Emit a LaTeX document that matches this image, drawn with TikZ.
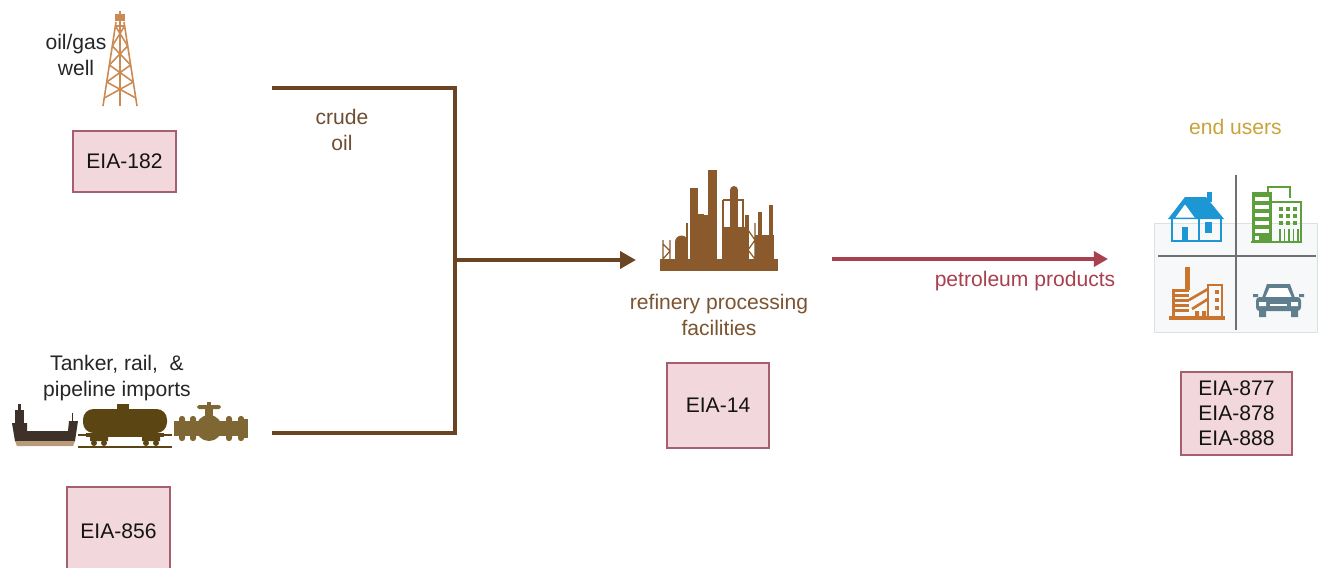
\documentclass[tikz,border=0pt]{standalone}
\usepackage{fontspec}
\setmainfont{Liberation Sans}
\usetikzlibrary{arrows.meta}

\definecolor{crudebrown}{HTML}{6B4423}
\definecolor{refbrown}{HTML}{8A5A2C}
\definecolor{crudetext}{HTML}{6E4E33}
\definecolor{reftext}{HTML}{7B5431}
\definecolor{prodred}{HTML}{A8404F}
\definecolor{boxfill}{HTML}{F2D7DC}
\definecolor{boxline}{HTML}{A65F6E}
\definecolor{derrick}{HTML}{C98A53}
\definecolor{usersgold}{HTML}{C9A33A}
\definecolor{houseblue}{HTML}{1C97D4}
\definecolor{officegreen}{HTML}{5E9F3D}
\definecolor{factoryorange}{HTML}{C9752F}
\definecolor{carslate}{HTML}{5F7F8F}
\definecolor{shipdark}{HTML}{3D3129}
\definecolor{shipstripe}{HTML}{B89B78}
\definecolor{railcar}{HTML}{5B4513}
\definecolor{valvebrown}{HTML}{7E6733}
\definecolor{panelbg}{HTML}{F6F8F9}
\definecolor{panelline}{HTML}{DCE1E4}
\definecolor{crossgray}{HTML}{707070}

\tikzset{
  eiabox/.style={draw=boxline, fill=boxfill, line width=0.85pt, inner sep=0pt,
    align=center, font=\fontsize{12}{14.2}\selectfont, text=black!92},
  flowtext/.style={align=center, font=\fontsize{12}{14.5}\selectfont},
  crudeline/.style={draw=crudebrown, line width=2.6pt},
  productline/.style={draw=prodred, line width=2.2pt},
}

\begin{document}
\begin{tikzpicture}[x=0.02cm, y=-0.02cm, >={Triangle[length=9pt,width=9.5pt]}]
  \useasboundingbox (0,0) rectangle (1319,568);
  \fill[white] (0,0) rectangle (1319,568);

  \begin{scope}[draw=derrick, line width=0.9pt]
    \draw (116,22) -- (103,106);
    \draw (124,22) -- (137,106);
    \draw (120,18) -- (120,106);
    \draw (115.6,26) -- (124.4,26);
    \foreach \a/\b in {26/46,46/65,65/82,82/98}
      \draw ({116-13*(\a-22)/84},\a) -- ({124+13*(\b-22)/84},\b)
            ({124+13*(\a-22)/84},\a) -- ({116-13*(\b-22)/84},\b);
    \fill[derrick] (115,14) rectangle (125,21);
    \fill[derrick] (119,11) rectangle (121,14);
  \end{scope}
  \node[flowtext, text=black!85] (wellLabel) at (76,55) {oil/gas\\well};
  \node[eiabox, minimum width=2.06cm, minimum height=1.22cm] (eia182) at (124.5,161.5) {EIA-182};

  \fill[shipdark] (12,423) -- (27,423) -- (27,431) -- (68,431) -- (69,421) -- (78,421)
    -- (75,441) -- (15,441) -- cycle;
  \fill[shipstripe] (15,441) -- (75,441) -- (73,446) -- (17,446) -- cycle;
  \fill[shipdark] (15,410) rectangle (24,423);
  \fill[shipdark] (18,404) rectangle (21,410);
  \draw[shipdark, line width=0.5pt] (72,421) -- (72,413);

  \fill[railcar, rounded corners=6pt] (83,409) rectangle (167,433);
  \fill[railcar] (117,404) rectangle (129,410);
  \fill[railcar] (86,433) rectangle (164,437);
  \fill[railcar] (90,437) rectangle (108,441) (142,437) rectangle (160,441);
  \foreach \w in {94,104,146,156}
    \fill[railcar] (\w,443) circle (3);
  \draw[railcar, line width=0.6pt] (78,447) -- (172,447);
  \draw[railcar, line width=1pt] (78,435) -- (86,435) (164,435) -- (172,435);

  \fill[valvebrown] (174,421) rectangle (247,436);
  \foreach \f in {179,190,226,238}
    \fill[valvebrown, rounded corners=1.5pt] (\f,416) rectangle (\f+6,441);
  \fill[valvebrown] (209,428) circle (13);
  \fill[valvebrown] (205,409) rectangle (213,418);
  \fill[valvebrown] (207,402) rectangle (211,409);
  \fill[valvebrown, rounded corners=1pt] (197,405) rectangle (221,409);
  \fill[valvebrown] (244,419) rectangle (248,438);
  \node[flowtext, text=black!85] (importsLabel) at (117,378) {Tanker, rail,\ \ \&\\pipeline imports};
  \node[eiabox, minimum width=2.06cm, minimum height=1.76cm] (eia856) at (118.5,531) {EIA-856};

  \coordinate (wellOut) at (272,88);
  \coordinate (importsOut) at (272,433);
  \coordinate (joinTop) at (455,88);
  \coordinate (joinBot) at (455,433);
  \coordinate (join) at (455,260);
  \coordinate (refIn) at (636,260);
  \draw[crudeline] (wellOut) -- (joinTop) -- (joinBot) -- (importsOut);
  \draw[crudeline, ->] (join) -- (refIn);
  \node[flowtext, text=crudetext] (crudeLabel) at (342,130) {crude\\oil};

  \begin{scope}[refbrown]
    \fill (660,259) rectangle (778,271);
    \fill (708,170) rectangle (717,259);
    \fill (690,188) rectangle (698,259);
    \fill (698,215) rectangle (708,259);
    \fill (730,190) rectangle (738,259);
    \fill (734,190) circle (4);
    \draw[line width=0.8pt] (723,200) -- (723,227) (723,200) -- (743,200) -- (743,227);
    \draw[line width=0.8pt] (687,223) -- (687,259) (694,215) -- (704,215);
    \fill (722,227) rectangle (745,259);
    \fill (745,215) rectangle (749,259);
    \fill (758,212) rectangle (762,259);
    \fill (769,205) rectangle (773,259);
    \fill (755,235) rectangle (774,259);
    \fill (675,242) rectangle (688,259);
    \fill (681.5,242) circle (6.5);
    \draw[line width=0.7pt] (748,223) -- (748,259) (755,223) -- (755,259)
      (748,230) -- (755,240) -- (748,250) -- (755,259);
    \draw[line width=0.7pt] (663,240) -- (663,259) (670,240) -- (670,259)
      (663,244) -- (670,251) -- (663,259);
  \end{scope}
  \node[flowtext, text=reftext] (refineryLabel) at (719,315) {refinery processing\\facilities};
  \node[eiabox, minimum width=2.04cm, minimum height=1.7cm] (eia14) at (718,405.5) {EIA-14};

  \coordinate (refOut) at (832,259);
  \coordinate (usersIn) at (1108,259);
  \draw[productline, -{Triangle[length=8pt,width=8.5pt]}] (refOut) -- (usersIn);
  \node[flowtext, text=prodred] (productsLabel) at (1025,281) {petroleum products};

  \node[flowtext, text=usersgold] (usersLabel) at (1235.5,127) {end users};
  \filldraw[fill=panelbg, draw=panelline, line width=0.4pt] (1154,223) rectangle (1317,332);
  \draw[crossgray, line width=0.9pt] (1236,175) -- (1236,330) (1158,256) -- (1316,256);

  \begin{scope}[houseblue]
    \fill (1207,192) rectangle (1212,202);
    \fill (1168,219) -- (1185,197) -- (1206,197) -- (1224,219) -- cycle;
    \fill[white] (1175.5,217.5) -- (1185,204.5) -- (1194.5,217.5) -- cycle;
    \draw[line width=1.3pt] (1172,218) -- (1172,241) -- (1221,241) -- (1221,218)
      (1199,218) -- (1199,241);
    \fill (1182,227) rectangle (1188,241);
    \fill (1205,222) rectangle (1212,233);
  \end{scope}

  \begin{scope}[officegreen]
    \fill (1252,192) rectangle (1272,242);
    \foreach \y in {197,205,213,221,229}
      \fill[white] (1255,\y) rectangle (1269,\y+3.5);
    \fill[white] (1255,236) rectangle (1259,240);
    \draw[line width=1.3pt] (1272,202) -- (1301,202) -- (1301,242);
    \draw[line width=1.4pt] (1251,242) -- (1302,242);
    \draw[line width=1.1pt] (1268,192) -- (1268,187) -- (1290,187) -- (1290,198);
    \foreach \wx in {1279,1286,1293}
      \foreach \wy in {207,214,221}
        \fill (\wx,\wy) rectangle (\wx+4,\wy+4);
    \foreach \wx in {1279,1283.5,1288,1292.5,1297}
      \fill (\wx,229) rectangle (\wx+1.6,241);
  \end{scope}

  \begin{scope}[factoryorange]
    \fill (1185,267) rectangle (1190,290);
    \foreach \y in {289,294,299,304,309}
      \fill (1172,\y) rectangle (1189,\y+3);
    \fill (1172,289) rectangle (1175,317);
    \draw[line width=1.5pt] (1189,300) -- (1208,289) (1192,309) -- (1208,299);
    \draw[line width=1.2pt] (1208,285) rectangle (1222,317);
    \foreach \wy in {290,298,306}
      \fill (1215,\wy) rectangle (1219,\wy+3.5);
    \fill (1195,311) rectangle (1199,316) (1202,311) rectangle (1206,316);
    \fill (1169,316) rectangle (1225,320);
  \end{scope}

  \begin{scope}[carslate]
    \fill (1262,298) -- (1267,284) -- (1290,284) -- (1295,298) -- cycle;
    \fill[white] (1265.5,297) -- (1269.5,288) -- (1287.5,288) -- (1291.5,297) -- cycle;
    \fill[rounded corners=2pt] (1256,297) rectangle (1301,311);
    \fill[white] (1259,302) rectangle (1266,306) (1291,302) rectangle (1298,306);
    \fill[white] (1270,304) rectangle (1287,306);
    \fill (1259,310) rectangle (1266,317) (1291,310) rectangle (1298,317);
    \fill (1253,294) rectangle (1258,297) (1299,294) rectangle (1304,297);
  \end{scope}

  \node[eiabox, minimum width=2.22cm, minimum height=1.66cm] (eia877) at (1236.5,413.5)
    {EIA-877\\EIA-878\\EIA-888};
\end{tikzpicture}
\end{document}
